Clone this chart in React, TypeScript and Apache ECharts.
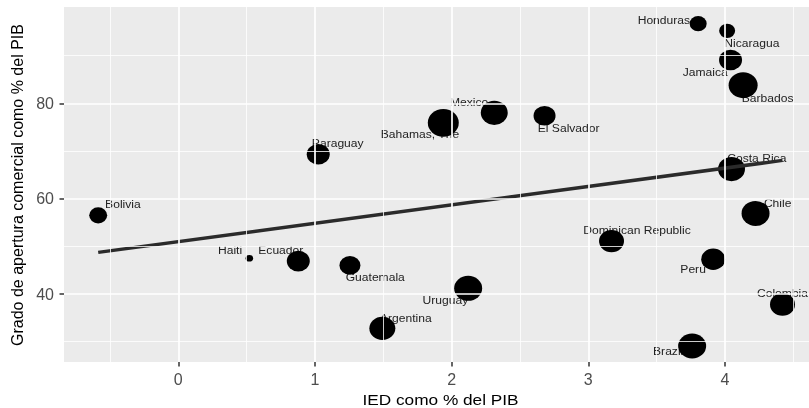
import React, { useEffect, useRef } from "react";
import * as echarts from "echarts";

// ---- data ----
const paises = [
  "Bolivia", "Haiti", "Ecuador", "Guatemala", "Argentina", "Uruguay",
  "Dominican Republic", "Peru", "Brazil", "Colombia", "Chile", "Costa Rica",
  "Barbados", "Jamaica", "Nicaragua", "Honduras", "El Salvador", "Mexico",
  "Bahamas, The", "Paraguay",
];
const ied = [
  -0.586, 0.52, 0.878, 1.256, 1.493, 2.121,
  3.17, 3.914, 3.76, 4.421, 4.224, 4.048,
  4.133, 4.041, 4.016, 3.804, 2.68, 2.312,
  1.939, 1.024,
];
const apertura = [
  56.5, 47.5, 46.9, 46.0, 32.8, 41.2,
  51.1, 47.3, 29.1, 37.8, 56.9, 66.2,
  83.8, 89.1, 95.2, 96.7, 77.4, 78.0,
  75.9, 69.3,
];
// relative bubble size variable
const tamano = [
  18, 7.5, 23, 21, 26, 28,
  25, 24, 28, 25, 28, 27,
  29, 23, 16, 17, 22, 27,
  31, 23,
];
const xTicks = [0, 1, 2, 3, 4];
const yTicks = [40, 60, 80];
const xMinor = [-0.5, 0.5, 1.5, 2.5, 3.5, 4.5];
const yMinor = [30, 50, 70, 90];
const xTitle = "IED como % del PIB";
const yTitle = "Grado de apertura comercial como % del PIB";

// ---- label placement (styling: pixel offsets of each label from its point) ----
const labelDx = [24.7, -19.3, -17.5, 25.3, 23.5, -22.8, 25.5, -20.1, -24, 0, 22.1, 25.3, 24.5, -25.4, 24.7, -34.3, 24.1, -25.1, -23.3, 19.5];
const labelDy = [-11.3, -8.3, -11, 12, -10, 11.7, -11, 10.3, 5, -11.6, -10, -11, 12.7, 12.3, 12.3, -3.7, 12, -11, 11.7, -11];

const FONT = '"Liberation Sans", Arial, Helvetica, sans-serif';

export default function App() {
  const ref = useRef<HTMLDivElement>(null);
  useEffect(() => {
    if (!ref.current) return;
    const chart = echarts.init(ref.current, undefined, { renderer: "svg" });

    // linear regression (lm) from the data
    const n = ied.length;
    const mx = ied.reduce((a, b) => a + b, 0) / n;
    const my = apertura.reduce((a, b) => a + b, 0) / n;
    let sxy = 0, sxx = 0;
    for (let i = 0; i < n; i++) {
      sxy += (ied[i] - mx) * (apertura[i] - my);
      sxx += (ied[i] - mx) * (ied[i] - mx);
    }
    const slope = sxy / sxx;
    const inter = my - slope * mx;
    const x0 = Math.min(...ied), x1 = Math.max(...ied);

    const gridLines = [
      ...xMinor.map((v) => ({ xAxis: v, lineStyle: { color: "#fff", width: 0.8, type: "solid" } })),
      ...yMinor.map((v) => ({ yAxis: v, lineStyle: { color: "#fff", width: 0.8, type: "solid" } })),
      ...xTicks.map((v) => ({ xAxis: v, lineStyle: { color: "#fff", width: 1.7, type: "solid" } })),
      ...yTicks.map((v) => ({ yAxis: v, lineStyle: { color: "#fff", width: 1.7, type: "solid" } })),
    ];

    chart.setOption({
      animation: false,
      grid: {
        left: 64, right: 0, top: 7, bottom: 46,
        show: true, backgroundColor: "#EBEBEB", borderWidth: 0, z: 0,
      },
      xAxis: {
        type: "value", min: -0.8363, max: 4.615,
        axisLine: { show: false, onZero: false },
        splitLine: { show: false },
        axisTick: { show: true, customValues: xTicks, length: 4.5, lineStyle: { color: "#333", width: 1.5 } },
        axisLabel: { customValues: xTicks, fontSize: 16, color: "#4D4D4D", fontFamily: FONT, margin: 9 },
      },
      yAxis: {
        type: "value", min: 25.74, max: 100.2,
        axisLine: { show: false, onZero: false },
        splitLine: { show: false },
        axisTick: { show: true, customValues: yTicks, length: 4.5, lineStyle: { color: "#333", width: 1.5 } },
        axisLabel: { customValues: yTicks, fontSize: 16, color: "#4D4D4D", fontFamily: FONT, margin: 10 },
      },
      series: [
        {
          type: "line", data: [], z: 1, silent: true,
          markLine: { silent: true, symbol: ["none", "none"], label: { show: false }, data: gridLines, animation: false },
        },
        {
          type: "scatter", z: 3, silent: true,
          data: ied.map((x, i) => [x, apertura[i], tamano[i]]),
          symbol: "path://M0,50 A50,50 0 1,1 100,50 A50,50 0 1,1 0,50 Z",
          symbolSize: (v: number[]) => [v[2], v[2] / 1.12],
          itemStyle: { color: "#000", opacity: 1 },
        },
        {
          type: "line", z: 4, silent: true, symbol: "none",
          data: [[x0, inter + slope * x0], [x1, inter + slope * x1]],
          lineStyle: { color: "#2b2b2b", width: 3.5 },
        },
      ],
    });

    const labels = paises.map((p, i) => {
      const pt = chart.convertToPixel({ xAxisIndex: 0, yAxisIndex: 0 }, [ied[i], apertura[i]]) as number[];
      return {
        type: "text", x: pt[0] + labelDx[i], y: pt[1] + labelDy[i], scaleX: 1.1, z: 2, silent: true,
        style: {
          text: p, fontSize: 11, fontFamily: FONT, fill: "#222",
          align: "center", verticalAlign: "middle", textAlign: "center", textVerticalAlign: "middle",
        },
      };
    });
    chart.setOption({
      graphic: [
        ...labels,
        {
          type: "text", x: 440.5, y: 399.5, scaleX: 1.15, z: 5, silent: true,
          style: { text: xTitle, fontSize: 15, fontFamily: FONT, fill: "#000", align: "center", verticalAlign: "middle", textAlign: "center", textVerticalAlign: "middle" },
        },
        {
          type: "text", x: 17.7, y: 185, rotation: Math.PI / 2, z: 5, silent: true,
          style: { text: yTitle, fontSize: 16, fontFamily: FONT, fill: "#000", align: "center", verticalAlign: "middle", textAlign: "center", textVerticalAlign: "middle" },
        },
      ],
    });

    return () => chart.dispose();
  }, []);
  return <div ref={ref} style={{ position: "fixed", left: 0, top: 0, width: 809, height: 408 }} />;
}
